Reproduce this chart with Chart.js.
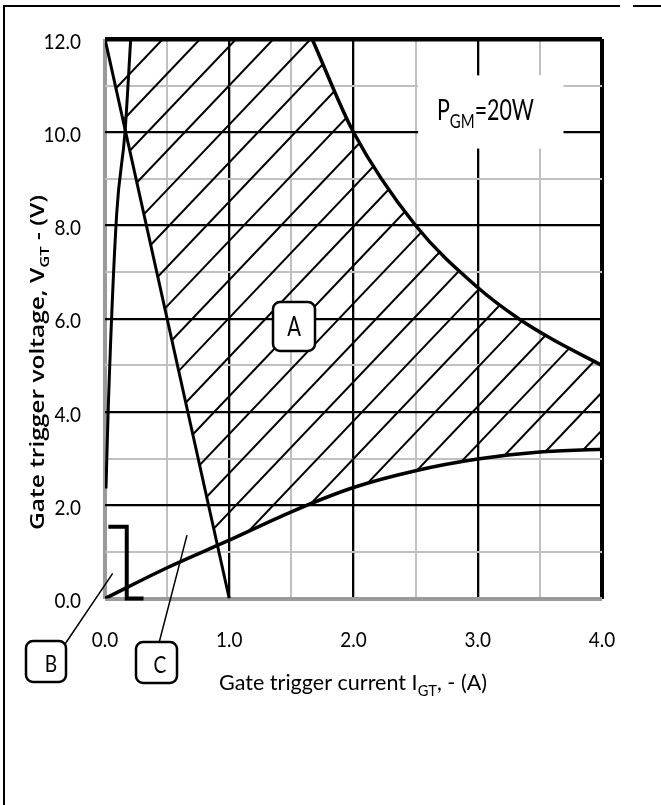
<!DOCTYPE html>
<html><head><meta charset="utf-8">
<script src="https://cdn.jsdelivr.net/npm/chart.js@4"></script>
<style>html,body{margin:0;padding:0;background:#fff;}#wrap{position:relative;width:661px;height:805px;}</style>
</head><body><div id="wrap"><canvas id="c" width="661" height="805"></canvas></div>
<script>
// ---------------- data ----------------
const xTickValues = [0, 1, 2, 3, 4];
const xTickLabels = ['0.0', '1.0', '2.0', '3.0', '4.0'];
const yTickValues = [0, 2, 4, 6, 8, 10, 12];
const yTickLabels = ['0.0', '2.0', '4.0', '6.0', '8.0', '10.0', '12.0'];

// P_GM = 20 W limit curve
const powerCurve = [
  {x: 1.667, y: 12}, {x: 2.0, y: 10}, {x: 2.5, y: 8}, {x: 3.0, y: 6.67},
  {x: 3.33, y: 6.0}, {x: 3.6, y: 5.56}, {x: 4.0, y: 5.0}
];
// lower boundary of region A
const minTriggerCurve = [
  {x: 0, y: 0}, {x: 0.5, y: 0.66}, {x: 1.0, y: 1.25}, {x: 1.5, y: 1.86},
  {x: 2.0, y: 2.38}, {x: 2.5, y: 2.74}, {x: 3.0, y: 2.99}, {x: 3.5, y: 3.14}, {x: 4.0, y: 3.2}
];
// left boundary of region A (source load line)
const loadLine = [{x: 0, y: 12}, {x: 1.0, y: 0}];
// steep line near the voltage axis
const steepLine = [
  {x: 0.008, y: 2.36}, {x: 0.027, y: 4.15}, {x: 0.094, y: 8.25}, {x: 0.161, y: 10}, {x: 0.207, y: 12}
];
// bracket of region B
const bracketB = [{x: 0.027, y: 1.54}, {x: 0.175, y: 1.54}, {x: 0.175, y: 0}, {x: 0.31, y: 0}];

// hatching of region A: x-intercepts at V=0 and common slope (V per A)
const hatchIntercepts = [-3.82, -3.52, -3.23, -2.93, -2.63, -2.34, -2.04, -1.74, -1.44, -1.15,
  -0.85, -0.55, -0.26, 0.04, 0.34, 0.64, 0.93, 1.23, 1.53, 1.82, 2.12, 2.42, 2.71];
const hatchSlope = 2.8;

const regionLabels = ['A', 'B', 'C'];
const powerLabel = ['P', 'GM', '=20W'];
const xTitle = ['Gate trigger current I', 'GT', ', - (A)'];
const yTitle = ['Gate trigger voltage, V', 'GT', ' - (V)'];

// ---------------- helpers ----------------
const LAT = 'Lato, "Liberation Sans", sans-serif';
const OPS = '"Open Sans", "DejaVu Sans", sans-serif';

function rich(ctx, parts, x, y, size, o) {
  o = o || {};
  const fam = o.family || LAT, w = o.weight || 'normal';
  const subSize = size * (o.subRatio || 0.68);
  const widths = parts.map(p => { ctx.font = w + ' ' + (p.sub ? subSize : size) + 'px ' + fam; return ctx.measureText(p.t).width; });
  const total = widths.reduce((a, b) => a + b, 0);
  const sc = o.width ? o.width / total : (o.sx || 0.85);
  ctx.save();
  ctx.translate(x, y);
  if (o.rotate) ctx.rotate(o.rotate);
  ctx.scale(sc, 1);
  let start = o.align === 'center' ? -total / 2 : (o.align === 'right' ? -total : 0);
  ctx.fillStyle = o.color || '#000';
  ctx.textBaseline = 'alphabetic';
  ctx.textAlign = 'left';
  parts.forEach((p, i) => {
    ctx.font = w + ' ' + (p.sub ? subSize : size) + 'px ' + fam;
    ctx.fillText(p.t, start, p.sub ? size * 0.27 : 0);
    start += widths[i];
  });
  ctx.restore();
}

function roundBox(ctx, x0, y0, x1, y1, r, lw) {
  ctx.save();
  ctx.beginPath();
  ctx.roundRect(x0, y0, x1 - x0, y1 - y0, r);
  ctx.fillStyle = '#fff';
  ctx.fill();
  ctx.lineWidth = lw;
  ctx.strokeStyle = '#000';
  ctx.stroke();
  ctx.restore();
}

function bez(ctx, prev, cur, flip) {
  ctx.bezierCurveTo(
    flip ? prev.cp1x : prev.cp2x, flip ? prev.cp1y : prev.cp2y,
    flip ? cur.cp2x : cur.cp1x, flip ? cur.cp2y : cur.cp1y,
    cur.x, cur.y);
}

// clip hatching to region A using the drawn boundary curves
const hatchClip = {
  id: 'hatchClip',
  beforeDatasetDraw(chart, args) {
    const ds = chart.data.datasets[args.index];
    if (!ds.hatch) return;
    const ctx = chart.ctx, xs = chart.scales.x, ys = chart.scales.y;
    const pw = chart.getDatasetMeta(0).data;   // power curve points
    const mn = chart.getDatasetMeta(1).data;   // lower curve points
    ctx.save();
    ctx.beginPath();
    ctx.moveTo(xs.getPixelForValue(0), ys.getPixelForValue(12));
    ctx.lineTo(pw[0].x, pw[0].y);
    for (let i = 1; i < pw.length; i++) bez(ctx, pw[i - 1], pw[i], false);
    ctx.lineTo(mn[mn.length - 1].x, mn[mn.length - 1].y);
    for (let i = mn.length - 2; i >= 0; i--) bez(ctx, mn[i + 1], mn[i], true);
    ctx.closePath();
    ctx.clip();
    ctx.beginPath();
    ctx.moveTo(xs.getPixelForValue(loadLine[0].x), ys.getPixelForValue(loadLine[0].y));
    ctx.lineTo(xs.getPixelForValue(loadLine[1].x), ys.getPixelForValue(loadLine[1].y));
    ctx.lineTo(xs.getPixelForValue(4), ys.getPixelForValue(0));
    ctx.lineTo(xs.getPixelForValue(4), ys.getPixelForValue(12));
    ctx.closePath();
    ctx.clip();
  },
  afterDatasetDraw(chart, args) {
    const ds = chart.data.datasets[args.index];
    if (ds.hatch) chart.ctx.restore();
  }
};

const decor = {
  id: 'decor',
  beforeDatasetsDraw(chart) {
    const ctx = chart.ctx, xs = chart.scales.x, ys = chart.scales.y;
    // white patch behind the power label (interrupts the grid)
    const x0 = xs.getPixelForValue(2.52), x1 = xs.getPixelForValue(3.69);
    const y0 = ys.getPixelForValue(11.22), y1 = ys.getPixelForValue(9.65);
    ctx.save();
    ctx.fillStyle = '#fff';
    ctx.fillRect(x0, y0, x1 - x0, y1 - y0);
    ctx.restore();
    rich(ctx, [{t: powerLabel[0]}, {t: powerLabel[1], sub: true}, {t: powerLabel[2]}],
      437, 120, 28, {width: 97, subRatio: 0.7});
  },
  afterDatasetsDraw(chart) {
    const ctx = chart.ctx, xs = chart.scales.x, ys = chart.scales.y;
    // tick labels
    xTickValues.forEach((v, i) => rich(ctx, [{t: xTickLabels[i]}], xs.getPixelForValue(v), 647, 22, {align: 'center', sx: 0.86}));
    yTickValues.forEach((v, i) => rich(ctx, [{t: yTickLabels[i]}], 81, ys.getPixelForValue(v) + 9.5, 22, {align: 'right', sx: 0.86}));
    // axis titles
    rich(ctx, [{t: xTitle[0]}, {t: xTitle[1], sub: true}, {t: xTitle[2]}], 219, 690, 22, {width: 268});
    rich(ctx, [{t: yTitle[0]}, {t: yTitle[1], sub: true}, {t: yTitle[2]}], 44, 530, 19,
      {width: 335, rotate: -Math.PI / 2, family: OPS, weight: '600'});
    // region A label
    roundBox(ctx, 273, 302, 315, 351, 7, 2.5);
    rich(ctx, [{t: regionLabels[0]}], 294, 336, 27, {align: 'center', sx: 0.75});
    // pointers for B and C
    ctx.save();
    ctx.strokeStyle = '#000';
    ctx.lineWidth = 1.5;
    ctx.beginPath();
    ctx.moveTo(61, 650);
    ctx.lineTo(xs.getPixelForValue(0.062), ys.getPixelForValue(0.54));
    ctx.moveTo(159, 643);
    ctx.lineTo(xs.getPixelForValue(0.66), ys.getPixelForValue(1.36));
    ctx.stroke();
    ctx.restore();
    roundBox(ctx, 26, 641, 66, 682, 7, 2.5);
    rich(ctx, [{t: regionLabels[1]}], 51, 672, 24, {align: 'center', sx: 0.8});
    roundBox(ctx, 136, 642, 177, 683, 7, 2.5);
    rich(ctx, [{t: regionLabels[2]}], 160, 673, 24, {align: 'center', sx: 0.8});
    // outer frame
    ctx.save();
    ctx.strokeStyle = '#000';
    ctx.lineWidth = 2;
    ctx.beginPath();
    ctx.moveTo(4, 805); ctx.lineTo(4, 6); ctx.lineTo(620, 6);
    ctx.moveTo(633, 6); ctx.lineTo(661, 6);
    ctx.stroke();
    ctx.restore();
  }
};

// ---------------- chart ----------------
const curveStyle = {showLine: true, pointRadius: 0, borderColor: '#000', backgroundColor: '#000', fill: false};
const datasets = [
  Object.assign({data: powerCurve, borderWidth: 3.5, cubicInterpolationMode: 'monotone'}, curveStyle),
  Object.assign({data: minTriggerCurve, borderWidth: 3.5, cubicInterpolationMode: 'monotone'}, curveStyle),
  Object.assign({data: loadLine, borderWidth: 3}, curveStyle),
  Object.assign({data: steepLine, borderWidth: 3, cubicInterpolationMode: 'monotone'}, curveStyle),
  Object.assign({data: bracketB, borderWidth: 4, clip: 6}, curveStyle)
];
hatchIntercepts.forEach(c => {
  datasets.push(Object.assign({
    hatch: true, borderWidth: 2,
    data: [{x: c, y: 0}, {x: c + 12 / hatchSlope, y: 12}]
  }, curveStyle));
});

function gridColor(v, isX) {
  if (v === 0) return '#9a9a9a';
  const major = isX ? Number.isInteger(v) : (v % 2 === 0);
  return major ? '#000' : '#c0c0c0';
}
function gridWidth(v, isX) {
  if (v === 0) return 4;
  if (isX && v === 4) return 4;
  if (!isX && v === 12) return 4.5;
  const major = isX ? Number.isInteger(v) : (v % 2 === 0);
  return major ? 2.3 : 2;
}

new Chart(document.getElementById('c'), {
  type: 'scatter',
  data: {datasets},
  options: {
    responsive: false,
    animation: false,
    events: [],
    layout: {padding: {left: 0, top: 39, right: 59, bottom: 106.5}},
    plugins: {legend: {display: false}, tooltip: {enabled: false}},
    scales: {
      x: {
        type: 'linear', min: 0, max: 4,
        ticks: {display: false, stepSize: 0.5},
        border: {display: false},
        grid: {drawTicks: false, color: c => gridColor(c.tick.value, true), lineWidth: c => gridWidth(c.tick.value, true)},
        afterFit: s => { s.height = 100; }
      },
      y: {
        type: 'linear', min: 0, max: 12,
        ticks: {display: false, stepSize: 1},
        border: {display: false},
        grid: {drawTicks: false, color: c => gridColor(c.tick.value, false), lineWidth: c => gridWidth(c.tick.value, false)},
        afterFit: s => { s.width = 105; }
      }
    }
  },
  plugins: [hatchClip, decor]
});
</script>
</body></html>
